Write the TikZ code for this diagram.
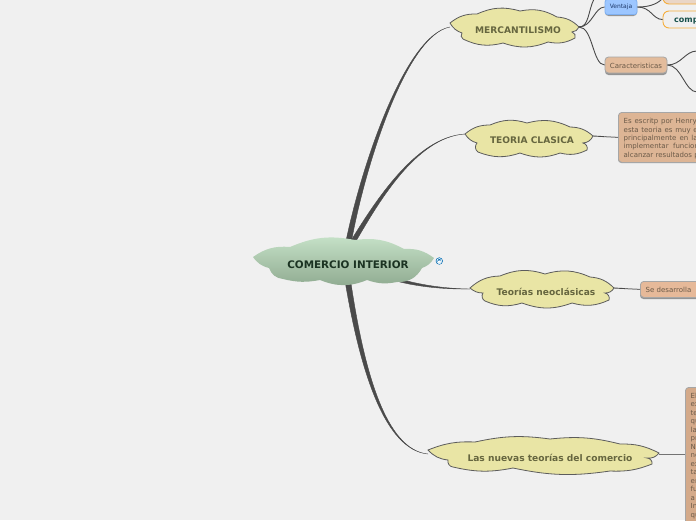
\documentclass[tikz,border=0pt]{standalone}
\usepackage{fontspec}
\setmainfont{DejaVu Sans}
\usetikzlibrary{calc}
\definecolor{bgc}{HTML}{F0F0F0}
\definecolor{linec}{HTML}{4A4A4A}
\definecolor{cloudc}{HTML}{E9E5A5}
\definecolor{cloudt}{HTML}{66663F}
\definecolor{tanc}{HTML}{E3BC9C}
\definecolor{tanb}{HTML}{DDB595}
\definecolor{tand}{HTML}{D4AA8A}
\definecolor{tane}{HTML}{E6B999}
\definecolor{tant}{HTML}{6B5A48}
\definecolor{centtop}{HTML}{C6E2C8}
\definecolor{centbot}{HTML}{8FAA90}
\definecolor{centtxt}{HTML}{1B3322}
\definecolor{ventf}{HTML}{9CC6FF}
\definecolor{ventb}{HTML}{7FB0F0}
\definecolor{ventt}{HTML}{1F3A6B}
\definecolor{orab}{HTML}{F5AE3C}
\definecolor{compt}{HTML}{17504A}
\tikzset{
  arc30/.style={bend left=20},
  cloudline/.style={draw=linec!90,line width=0.8pt,fill=cloudc},
  cloudtext/.style={font=\bfseries\fontsize{9.1}{10}\selectfont,text=cloudt,inner sep=0pt},
  taper/.style={fill=linec,draw=linec,line width=0.4pt},
  thinline/.style={draw=linec,line width=0.9pt},
  softline/.style={draw=black!55,line width=1pt},
  tanbox/.style={rectangle,rounded corners=3.5pt,draw=black!35,line width=0.8pt,fill=tanc,text=tant,inner sep=0pt},
  shadowbox/.style={fill=black!42,rounded corners=3.5pt},
  smalltext/.style={font=\fontsize{7}{8.6}\selectfont,text=tant,inner sep=0pt,anchor=base west},
}
\newcommand{\taperline}[6]{%
  \filldraw[taper] ($(#1)+(#5,#6)$) .. controls ($(#2)+0.7*(#5,#6)$) and ($(#3)+0.2*(#5,#6)$) .. (#4)
    .. controls ($(#3)-0.2*(#5,#6)$) and ($(#2)-0.7*(#5,#6)$) .. ($(#1)-(#5,#6)$) -- cycle;}
\begin{document}
\begin{tikzpicture}[x=1pt,y=-1pt]
\useasboundingbox (0,0) rectangle (696,520);
\clip (0,0) rectangle (696,520);
\fill[bgc] (0,0) rectangle (696,520);

% named connector ends
\coordinate (hubA) at (348,245);
\coordinate (hubB) at (351,245);
\coordinate (hubC) at (398,280);
\coordinate (hubD) at (348,282);
\coordinate (mercL) at (450,27);
\coordinate (clasL) at (465,134);
\coordinate (neoL) at (470,289);
\coordinate (nueL) at (428,454);
\coordinate (mercR) at (579,27);
\coordinate (clasR) at (593,136);
\coordinate (neoR) at (614,288);
\coordinate (nueR) at (659,454);
\coordinate (upA) at (594,-1);
\coordinate (upB) at (662,-1);
\coordinate (carA) at (697,51);
\coordinate (carB) at (697,92);

% main tapered branches
\taperline{hubA}{362,170}{405,35}{mercL}{2.8}{0}
\taperline{hubB}{375,205}{415,137}{clasL}{2.8}{0}
\taperline{hubC}{420,286}{445,289}{neoL}{0}{1.5}
\taperline{hubD}{362,370}{385,450}{nueL}{2.8}{0}

% central cloud
\shade[top color=centtop,bottom color=centbot]
  (253,257) to[bend left=20] (290,247) to[bend left=17] (355,240) to[bend left=18] (404,249) to[bend left=20] (434,258)
  to[bend left=20] (422,268) to[bend left=32] (397,282) to[bend left=15] (367,280)
  to[bend left=22] (320,280) to[bend left=12] (283,279) to[bend left=32] (269,268)
  to[bend left=20] cycle;
\node[font=\bfseries\fontsize{10.4}{12}\selectfont,text=centtxt,inner sep=0pt] (centre) at (348,264.5) {COMERCIO INTERIOR};

% wordpress-like mark
\fill[blue!40!cyan!70!black] (439.3,261) circle (3.6);
\draw[white,line width=0.6pt] (439.3,261) circle (2.5);
\draw[white,line width=0.7pt] (437.6,259.6) -- (438.7,263) -- (439.4,261) -- (440.2,263) -- (441.1,259.6);

% level-1 clouds
\draw[cloudline] (450,23) to[arc30] (477,14) to[arc30] (520,11) to[arc30] (557,17) to[arc30] (579,27)
  to[bend left=30] (572,32) to[bend left=50] (575,38) to[arc30] (548,42) to[arc30] (503,43)
  to[arc30] (463,39) to[bend left=50] (462,33) to[arc30] cycle;
\node[cloudtext] (merc) at (518,30) {MERCANTILISMO};

\draw[cloudline] (465,134) to[arc30] (490,125) to[arc30] (527,123) to[arc30] (570,127) to[arc30] (593,136)
  to[bend left=30] (583,143) to[bend left=50] (587,150) to[arc30] (560,153) to[arc30] (520,153)
  to[arc30] (478,152) to[bend left=50] (477,143) to[arc30] cycle;
\node[cloudtext] (clas) at (532,140) {TEORIA CLASICA};

\draw[cloudline] (470,288) to[arc30] (500,276) to[arc30] (545,274) to[arc30] (590,277) to[arc30] (614,288)
  to[bend left=30] (605,293) to[bend left=50] (609,300) to[arc30] (572,303) to[arc30] (522,303)
  to[arc30] (485,301) to[bend left=50] (483,293) to[arc30] cycle;
\node[cloudtext] (neo) at (546,292) {Teorías neoclásicas};

\draw[cloudline] (428,450) to[bend left=12] (475,442) to[bend left=10] (550,439) to[bend left=10] (620,444) to[bend left=14] (659,453)
  to[bend left=30] (647,458) to[bend left=50] (652,464) to[bend left=12] (610,471) to[bend left=10] (513,468)
  to[bend left=12] (453,467) to[bend left=50] (448,460) to[bend left=20] cycle;
\node[cloudtext] (nue) at (550,458) {Las nuevas teorías del comercio};

% boxes
\fill[shadowbox] (605,1) rectangle (637,16);
\node[rectangle,rounded corners=2.5pt,draw=ventb,line width=0.8pt,fill=ventf,text=ventt,
  font=\fontsize{6}{7}\selectfont,minimum width=32pt,minimum height=15pt,inner sep=0pt] (vent) at (621,7) {Ventaja};

\node[rectangle,rounded corners=6pt,draw=orab,line width=0.9pt,fill=bgc,minimum width=50pt,minimum height=17pt,inner sep=0pt] (comp) at (688,19.5) {};
\node[font=\bfseries\fontsize{8}{9}\selectfont,text=compt,inner sep=0pt,anchor=base west] (comptx) at (674,22) {comp};
\node[rectangle,rounded corners=6pt,draw=orab,line width=0.9pt,fill=tanc!50!bgc,minimum width=50pt,minimum height=17pt,inner sep=0pt] (top) at (688,-4.5) {};

\fill[shadowbox] (605,59) rectangle (667,75);
\node[tanbox,minimum width=62pt,minimum height=16pt] (car) at (636,65) {};
\node[font=\fontsize{7}{8}\selectfont,text=tant,inner sep=0pt] (cart) at (636,66) {Caracteristicas};

\fill[shadowbox] (618,114) rectangle (710,163);
\node[tanbox,fill=tanb,anchor=north west,minimum width=92pt,minimum height=50pt] (clasbox) at (618,112) {};
\node[smalltext] (c1) at (623.5,123.5) {\makebox[73pt][s]{Es escritp por Henry}};
\node[smalltext] (c2) at (623.5,132) {\makebox[74pt][s]{esta teoria es muy e}};
\node[smalltext] (c3) at (623.5,140) {\makebox[74pt][s]{principalmente en la}};
\node[smalltext] (c4) at (623.5,148.5) {implementar\ \ funcion};
\node[smalltext] (c5) at (623.5,157) {alcanzar resultados p};

\fill[shadowbox] (640,283) rectangle (710,299);
\node[tanbox,anchor=north west,fill=tane,minimum width=70pt,minimum height=16pt] (neobox) at (640,281) {};
\node[smalltext] (neot) at (645.5,292.3) {Se desarrolla};

\node[tanbox,anchor=north west,fill=tand,minimum width=40pt,minimum height=150pt] (nuebox) at (685,387) {};
\foreach \t [count=\i from 0] in {El,ex,te,qu,la,pr,N,ne,ex,ta,er,fu,a,In,qu}
  \node[smalltext] (n\i) at (690.5,{398+8.5*\i}) {\t};

% thin connectors
\draw[thinline] (mercR) .. controls +(10,0) and +(-6,12) .. (upA);
\draw[thinline] (mercR) .. controls +(13,0) and +(-10,0) .. (vent.west);
\draw[thinline] (mercR) .. controls +(14,0) and +(-12,0) .. (car.west);
\draw[thinline] (vent.east) .. controls +(10,0) and +(-6,6) .. (upB);
\draw[thinline] (vent.east) .. controls +(14,0) and +(-10,0) .. (comp.west);
\draw[thinline] (car.east) .. controls +(14,0) and +(-12,0) .. (carA);
\draw[thinline] (car.east) .. controls +(14,0) and +(-12,0) .. (carB);
\draw[thinline] (clasR) -- ($(clasR)!0.45!(clasbox.west)$);
\draw[softline] ($(clasR)!0.45!(clasbox.west)$) -- (clasbox.west);
\draw[thinline] (neoR) -- ($(neoR)!0.45!(neobox.west)$);
\draw[softline] ($(neoR)!0.45!(neobox.west)$) -- (neobox.west);
\draw[softline] (nueR) -- (nueR -| nuebox.west);
\end{tikzpicture}
\end{document}
